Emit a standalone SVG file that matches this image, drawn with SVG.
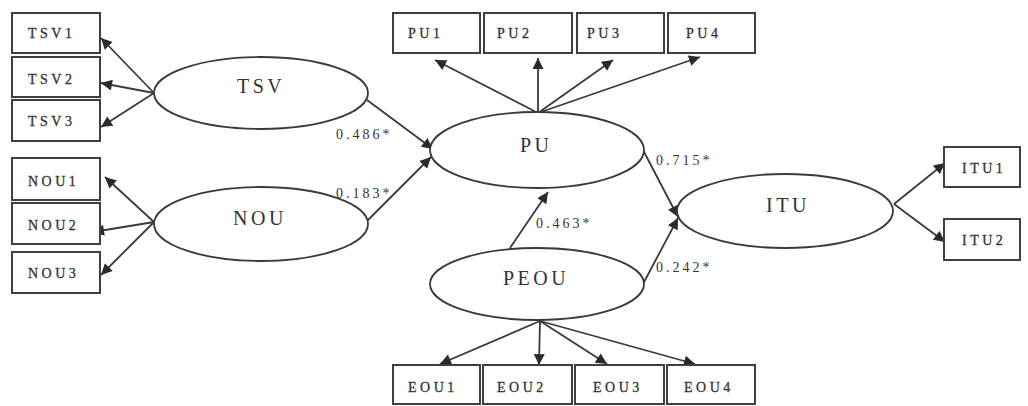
<svg xmlns="http://www.w3.org/2000/svg" width="1028" height="406" viewBox="0 0 1028 406">
  <style>
    .box { fill: #ffffff; stroke: #3f3f3f; stroke-width: 2; }
    .lat { fill: #ffffff; stroke: #3a3a3a; stroke-width: 1.8; }
    .ind { font-family: "Liberation Serif", serif; font-size: 14px; letter-spacing: 3.5px; fill: #333333; stroke: #333333; stroke-width: 0.3; dominant-baseline: central; }
    .lv { font-family: "Liberation Serif", serif; font-size: 20px; letter-spacing: 3.5px; fill: #333333; dominant-baseline: central; }
    .coef { font-family: "Liberation Serif", serif; font-size: 14px; letter-spacing: 3px; fill: #333333; }
    .edge { stroke: #3a3a3a; stroke-width: 1.8; fill: none; marker-end: url(#arr); }
  </style>
  <defs>
    <marker id="arr" viewBox="0 0 10 10" refX="10" refY="5" markerWidth="13" markerHeight="11" markerUnits="userSpaceOnUse" orient="auto">
      <path d="M0,0 L10,5 L0,10 z" fill="#2a2a2a"/>
    </marker>
  </defs>
  <rect width="1028" height="406" fill="#ffffff"/>

  <!-- connectors -->
  <g id="connectors">
    <!-- TSV indicators -->
    <line class="edge" x1="154" y1="93" x2="101" y2="38"/>
    <line class="edge" x1="154" y1="93" x2="101" y2="83"/>
    <line class="edge" x1="154" y1="93" x2="101" y2="127"/>
    <!-- NOU indicators -->
    <line class="edge" x1="154" y1="222" x2="105" y2="177"/>
    <line class="edge" x1="154" y1="222" x2="93" y2="232"/>
    <line class="edge" x1="154" y1="222" x2="101" y2="275"/>
    <!-- PU indicators -->
    <line class="edge" x1="538" y1="113" x2="435" y2="60"/>
    <line class="edge" x1="538" y1="113" x2="538" y2="58"/>
    <line class="edge" x1="538" y1="113" x2="613" y2="60"/>
    <line class="edge" x1="538" y1="113" x2="700" y2="57"/>
    <!-- EOU indicators -->
    <line class="edge" x1="540" y1="321" x2="440" y2="364"/>
    <line class="edge" x1="540" y1="321" x2="539" y2="365"/>
    <line class="edge" x1="540" y1="321" x2="607" y2="364"/>
    <line class="edge" x1="540" y1="321" x2="695" y2="364"/>
    <!-- ITU indicators -->
    <line class="edge" x1="894" y1="204" x2="945" y2="163"/>
    <line class="edge" x1="894" y1="204" x2="945" y2="242"/>
    <!-- structural paths -->
    <line class="edge" x1="367" y1="100" x2="433" y2="149"/>
    <line class="edge" x1="367" y1="221" x2="431" y2="157"/>
    <line class="edge" x1="510" y1="248" x2="548" y2="192"/>
    <line class="edge" x1="643" y1="150" x2="678" y2="217"/>
    <line class="edge" x1="643" y1="284" x2="678" y2="218"/>
  </g>

  <!-- path coefficients -->
  <text class="coef" x="336" y="139">0.486*</text>
  <text class="coef" x="336" y="198">0.183*</text>
  <text class="coef" x="536" y="228">0.463*</text>
  <text class="coef" x="656" y="165">0.715*</text>
  <text class="coef" x="656" y="272">0.242*</text>

  <!-- latent variables -->
  <g id="TSV"><ellipse class="lat" cx="261" cy="93" rx="107" ry="36"/><text class="lv" x="237" y="86">TSV</text></g>
  <g id="NOU"><ellipse class="lat" cx="261" cy="224" rx="107" ry="37"/><text class="lv" x="233" y="218">NOU</text></g>
  <g id="PU"><ellipse class="lat" cx="537" cy="150" rx="107" ry="38"/><text class="lv" x="520" y="145">PU</text></g>
  <g id="PEOU"><ellipse class="lat" cx="537" cy="284" rx="107" ry="36"/><text class="lv" x="503" y="278">PEOU</text></g>
  <g id="ITU"><ellipse class="lat" cx="785" cy="211" rx="108" ry="37"/><text class="lv" x="766" y="205">ITU</text></g>

  <!-- indicators -->
  <g id="TSV1"><rect class="box" x="12" y="13" width="88" height="40"/><text class="ind" x="28" y="33">TSV1</text></g>
  <g id="TSV2"><rect class="box" x="12" y="57" width="88" height="40"/><text class="ind" x="28" y="79">TSV2</text></g>
  <g id="TSV3"><rect class="box" x="12" y="100" width="88" height="41"/><text class="ind" x="28" y="121">TSV3</text></g>
  <g id="NOU1"><rect class="box" x="12" y="158" width="88" height="42"/><text class="ind" x="28" y="181">NOU1</text></g>
  <g id="NOU2"><rect class="box" x="12" y="203" width="88" height="41"/><text class="ind" x="28" y="225">NOU2</text></g>
  <g id="NOU3"><rect class="box" x="12" y="252" width="88" height="41"/><text class="ind" x="28" y="273">NOU3</text></g>

  <g id="PU1"><rect class="box" x="393" y="13" width="87" height="40"/><text class="ind" x="408" y="33">PU1</text></g>
  <g id="PU2"><rect class="box" x="484" y="13" width="88" height="40"/><text class="ind" x="497" y="33">PU2</text></g>
  <g id="PU3"><rect class="box" x="577" y="13" width="87" height="40"/><text class="ind" x="587" y="33">PU3</text></g>
  <g id="PU4"><rect class="box" x="668" y="13" width="87" height="40"/><text class="ind" x="686" y="33">PU4</text></g>

  <g id="EOU1"><rect class="box" x="393" y="365" width="87" height="39"/><text class="ind" x="408" y="387">EOU1</text></g>
  <g id="EOU2"><rect class="box" x="483" y="365" width="89" height="39"/><text class="ind" x="497" y="387">EOU2</text></g>
  <g id="EOU3"><rect class="box" x="575" y="365" width="89" height="39"/><text class="ind" x="593" y="387">EOU3</text></g>
  <g id="EOU4"><rect class="box" x="667" y="365" width="88" height="39"/><text class="ind" x="684" y="387">EOU4</text></g>

  <g id="ITU1"><rect class="box" x="944" y="147" width="76" height="40"/><text class="ind" x="962" y="168">ITU1</text></g>
  <g id="ITU2"><rect class="box" x="944" y="219" width="76" height="41"/><text class="ind" x="962" y="240">ITU2</text></g>
</svg>
